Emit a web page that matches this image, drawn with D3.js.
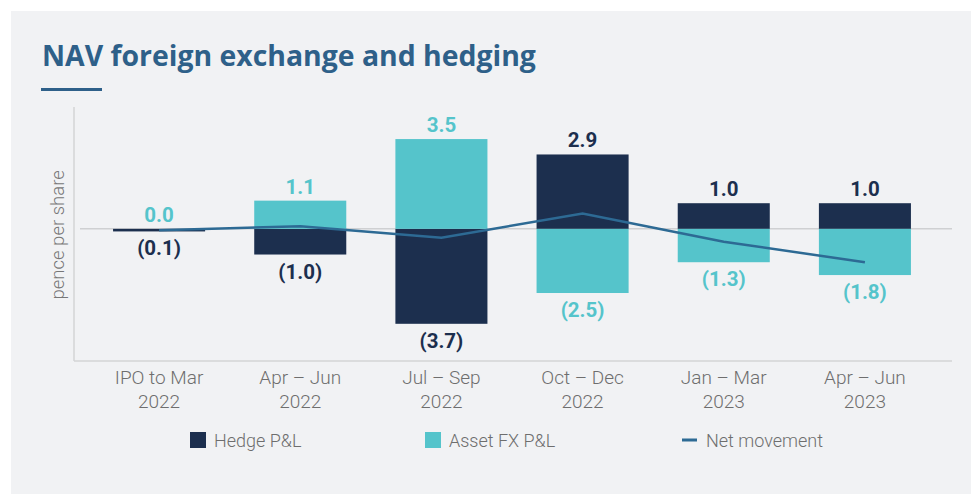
<!DOCTYPE html>
<html>
<head>
<meta charset="utf-8">
<script src="https://cdn.jsdelivr.net/npm/d3@7"></script>
<style>
  html, body { margin: 0; padding: 0; background: #ffffff; }
  svg { display: block; }
</style>
</head>
<body>
<div id="chart"></div>
<script>
const categories = [
  ["IPO to Mar", "2022"],
  ["Apr \u2013 Jun", "2022"],
  ["Jul \u2013 Sep", "2022"],
  ["Oct \u2013 Dec", "2022"],
  ["Jan \u2013 Mar", "2023"],
  ["Apr \u2013 Jun", "2023"],
];
const hedgePL = [-0.1, -1.0, -3.7, 2.9, 1.0, 1.0];
const assetFxPL = [0.0, 1.1, 3.5, -2.5, -1.3, -1.8];
const netMovement = [-0.05, 0.1, -0.35, 0.6, -0.5, -1.3];

const W = 971, H = 494;
const colors = { hedge: "#1c2f4e", asset: "#55c4cb", net: "#2d6a94" };
const fmt = (v) => (v < 0 ? `(${Math.abs(v).toFixed(1)})` : v.toFixed(1));

const svg = d3.select("#chart").append("svg")
  .attr("width", W)
  .attr("height", H)
  .attr("viewBox", `0 0 ${W} ${H}`);

// panel background
svg.append("rect")
  .attr("x", 11).attr("y", 11)
  .attr("width", W - 11).attr("height", H - 11)
  .attr("fill", "#f1f2f4");

// title
svg.append("text")
  .attr("x", 42).attr("y", 66)
  .attr("fill", "#2e6089")
  .style("font-family", "'Open Sans', sans-serif")
  .style("font-weight", 700)
  .style("font-size", "28.4px")
  .text("NAV foreign exchange and hedging");

svg.append("rect")
  .attr("x", 41).attr("y", 88)
  .attr("width", 61).attr("height", 3)
  .attr("fill", "#2e6089");

const x = d3.scaleBand()
  .domain(d3.range(categories.length))
  .range([88.5, 935.5])
  .paddingInner(0.348)
  .paddingOuter(0.174);

const y = d3.scaleLinear()
  .domain([-5.15, 4.75])
  .range([361, 107]);

// axes
svg.append("line")
  .attr("x1", 74).attr("x2", 74)
  .attr("y1", 107).attr("y2", 361)
  .attr("stroke", "#d3d4d6").attr("stroke-width", 1.5);
svg.append("line")
  .attr("x1", 74).attr("x2", 952)
  .attr("y1", 361).attr("y2", 361)
  .attr("stroke", "#d3d4d6").attr("stroke-width", 1.5);

svg.append("text")
  .attr("transform", `translate(64,${y(0) + 6}) rotate(-90)`)
  .attr("text-anchor", "middle")
  .attr("fill", "#777")
  .style("font-family", "Roboto, sans-serif")
  .style("font-weight", 300)
  .style("font-size", "18.5px")
  .text("pence per share");

// zero line
svg.append("line")
  .attr("x1", 80).attr("x2", 952)
  .attr("y1", y(0)).attr("y2", y(0))
  .attr("stroke", "#cfd0d2").attr("stroke-width", 1.5);

const series = [
  { key: "hedge", values: hedgePL, color: colors.hedge },
  { key: "asset", values: assetFxPL, color: colors.asset },
];

series.forEach((s) => {
  svg.append("g")
    .selectAll("rect")
    .data(s.values)
    .join("rect")
    .attr("x", (d, i) => x(i))
    .attr("width", x.bandwidth())
    .attr("y", (d) => y(Math.max(0, d)))
    .attr("height", (d) => Math.abs(y(d) - y(0)))
    .attr("fill", s.color);
});

series.forEach((s) => {
  svg.append("g")
    .selectAll("text")
    .data(s.values)
    .join("text")
    .attr("x", (d, i) => x(i) + x.bandwidth() / 2)
    .attr("y", (d) => (d < 0 ? y(d) + 24 : y(d) - 7))
    .attr("text-anchor", "middle")
    .attr("fill", s.color)
    .style("font-family", "Roboto, sans-serif")
    .style("font-weight", 700)
    .style("font-size", "20.5px")
    .text((d) => fmt(d));
});

// net movement line
const line = d3.line()
  .x((d, i) => x(i) + x.bandwidth() / 2)
  .y((d) => y(d));

svg.append("path")
  .datum(netMovement)
  .attr("d", line)
  .attr("fill", "none")
  .attr("stroke", colors.net)
  .attr("stroke-width", 2.5);

// x tick labels
const ticks = svg.append("g")
  .selectAll("text")
  .data(categories)
  .join("text")
  .attr("x", (d, i) => x(i) + x.bandwidth() / 2)
  .attr("y", 384)
  .attr("text-anchor", "middle")
  .attr("fill", "#6e6e6e")
  .style("font-family", "Roboto, sans-serif")
  .style("font-weight", 300)
  .style("font-size", "19px");
ticks.selectAll("tspan")
  .data((d) => d)
  .join("tspan")
  .attr("x", function () { return d3.select(this.parentNode).attr("x"); })
  .attr("dy", (d, j) => (j === 0 ? 0 : 24))
  .text((d) => d);

// legend
const legend = [
  { label: "Hedge P&L", color: colors.hedge, type: "box", x: 190 },
  { label: "Asset FX P&L", color: colors.asset, type: "box", x: 425 },
  { label: "Net movement", color: colors.net, type: "line", x: 682 },
];
const lg = svg.append("g")
  .selectAll("g")
  .data(legend)
  .join("g")
  .attr("transform", (d) => `translate(${d.x},432)`);
lg.filter((d) => d.type === "box")
  .append("rect")
  .attr("width", 16).attr("height", 16)
  .attr("fill", (d) => d.color);
lg.filter((d) => d.type === "line")
  .append("rect")
  .attr("y", 6.5)
  .attr("width", 15).attr("height", 3)
  .attr("fill", (d) => d.color);
lg.append("text")
  .attr("x", 24)
  .attr("y", 15)
  .attr("fill", "#6e6e6e")
  .style("font-family", "Roboto, sans-serif")
  .style("font-weight", 300)
  .style("font-size", "18px")
  .text((d) => d.label);
</script>
</body>
</html>
